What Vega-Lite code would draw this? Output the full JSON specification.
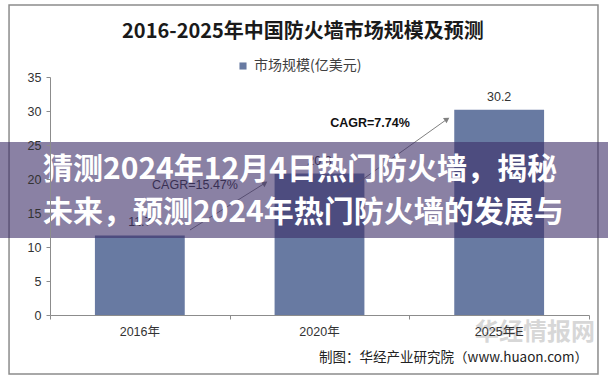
{
  "$schema": "https://vega.github.io/schema/vega-lite/v6.json",
  "width": 539,
  "height": 238,
  "autosize": {"type": "none"},
  "padding": {"left": 50, "top": 77, "right": 19, "bottom": 67},
  "background": "white",
  "config": {"view": {"stroke": null}, "font": "Liberation Sans, Noto Sans CJK SC"},
  "datasets": {
    "bars": [
      {"year": "2016年", "value": 11.7, "series": "市场规模(亿美元)"},
      {"year": "2020年", "value": 20.8, "series": "市场规模(亿美元)"},
      {"year": "2025年E", "value": 30.2, "series": "市场规模(亿美元)"}
    ],
    "frame": [{"x0": -0.228, "x1": 3.05, "y0": 45.59, "y1": -8.68}],
    "title": [{"x": 1.408, "y": 41.6, "label": "2016-2025年中国防火墙市场规模及预测"}],
    "banner": [{"x0": -0.3, "x1": 3.2, "y0": 25.44, "y1": 11.32}],
    "arrows": [
      {"xs": 0.779, "ys": 12.5, "xe": 1.197, "ye": 19.4},
      {"xs": 1.558, "ys": 16.5, "xe": 2.21, "ye": 28.8}
    ],
    "cagr": [{"x": 0.807, "y": 19.12, "label": "CAGR=15.47%"}],
    "cagr2": [{"x": 1.781, "y": 28.24, "label": "CAGR=7.74%"}],
    "source": [{"x": 2.994, "y": -6.32, "label": "制图：华经产业研究院（www.huaon.com）"}],
    "watermark": [{"x": 2.699, "y": -2.65, "label": "华经情报网"}],
    "headline": [
      {"x": -0.039, "y": 21.3, "label": "猜测2024年12月4日热门防火墙，揭秘"},
      {"x": -0.039, "y": 15.0, "label": "未来，预测2024年热门防火墙的发展与"}
    ]
  },
  "layer": [
    {
      "data": {"name": "frame"},
      "mark": {"type": "rect", "fill": "transparent", "stroke": "#8c8c8c", "strokeWidth": 1.5},
      "encoding": {
        "x": {"field": "x0", "type": "quantitative", "scale": {"domain": [0, 3], "nice": false, "zero": false},
          "axis": {"orient": "bottom", "values": [0, 1, 2, 3], "labels": false, "title": null, "grid": false, "domainColor": "#8c8c8c", "tickColor": "#8c8c8c", "tickSize": 4, "zindex": 1}},
        "x2": {"field": "x1"},
        "y": {"field": "y0", "type": "quantitative", "scale": {"domain": [0, 35], "nice": false}, "axis": null},
        "y2": {"field": "y1"}
      }
    },
    {
      "data": {"name": "title"},
      "mark": {"type": "text", "fontSize": 20, "fontWeight": "bold", "color": "#1a1a1a", "font": "Noto Sans CJK SC", "align": "center", "baseline": "middle"},
      "encoding": {
        "x": {"field": "x", "type": "quantitative", "scale": {"domain": [0, 3], "nice": false, "zero": false}, "axis": null},
        "y": {"field": "y", "type": "quantitative", "scale": {"domain": [0, 35], "nice": false}, "axis": null},
        "text": {"field": "label"}
      }
    },
    {
      "data": {"name": "bars"},
      "mark": {"type": "bar"},
      "encoding": {
        "x": {"field": "year", "type": "nominal", "sort": null,
          "scale": {"paddingInner": 0.5, "paddingOuter": 0.25},
          "axis": {"orient": "bottom", "domain": false, "ticks": false, "labelPadding": 10, "title": null, "labelAngle": 0, "labelFontSize": 12.5, "labelColor": "#333333", "labelFont": "Liberation Sans, Noto Sans CJK SC", "zindex": 1}},
        "y": {"field": "value", "type": "quantitative", "scale": {"domain": [0, 35], "nice": false},
          "axis": {"orient": "left", "values": [0, 5, 10, 15, 20, 25, 30, 35], "labelOverlap": false, "grid": false, "title": null, "domainColor": "#8c8c8c", "tickColor": "#8c8c8c", "tickSize": 4, "labelPadding": 5, "labelFontSize": 12.5, "labelColor": "#333333", "labelFont": "Liberation Sans", "zindex": 1}},
        "color": {"field": "series", "type": "nominal", "scale": {"range": ["#687aa2"]},
          "legend": {"orient": "none", "legendX": 186, "legendY": -18, "title": null, "symbolType": "square", "symbolSize": 50, "labelFontSize": 14, "labelColor": "#404040", "labelFont": "Noto Sans CJK SC"}}
      }
    },
    {
      "data": {"name": "bars"},
      "mark": {"type": "text", "baseline": "middle", "dy": -13, "fontSize": 12.5, "color": "#333333", "font": "Liberation Sans"},
      "encoding": {
        "x": {"field": "year", "type": "nominal", "sort": null, "scale": {"paddingInner": 0.5, "paddingOuter": 0.25}, "axis": null},
        "y": {"field": "value", "type": "quantitative", "scale": {"domain": [0, 35], "nice": false}, "axis": null},
        "text": {"field": "value", "type": "quantitative", "format": ".1f"}
      }
    },
    {
      "data": {"name": "arrows"},
      "mark": {"type": "rule", "color": "#808080", "strokeWidth": 1},
      "encoding": {
        "x": {"field": "xs", "type": "quantitative", "scale": {"domain": [0, 3], "nice": false, "zero": false}, "axis": null},
        "x2": {"field": "xe"},
        "y": {"field": "ys", "type": "quantitative", "scale": {"domain": [0, 35], "nice": false}, "axis": null},
        "y2": {"field": "ye"}
      }
    },
    {
      "data": {"name": "arrows"},
      "mark": {"type": "point", "shape": "triangle-up", "filled": true, "color": "#808080", "opacity": 1, "size": 40, "angle": 56},
      "encoding": {
        "x": {"field": "xe", "type": "quantitative", "scale": {"domain": [0, 3], "nice": false, "zero": false}, "axis": null},
        "y": {"field": "ye", "type": "quantitative", "scale": {"domain": [0, 35], "nice": false}, "axis": null}
      }
    },
    {
      "data": {"name": "cagr"},
      "mark": {"type": "text", "fontSize": 12.5, "color": "#333333", "font": "Liberation Sans", "align": "center", "baseline": "middle"},
      "encoding": {
        "x": {"field": "x", "type": "quantitative", "scale": {"domain": [0, 3], "nice": false, "zero": false}, "axis": null},
        "y": {"field": "y", "type": "quantitative", "scale": {"domain": [0, 35], "nice": false}, "axis": null},
        "text": {"field": "label"}
      }
    },
    {
      "data": {"name": "cagr2"},
      "mark": {"type": "text", "fontSize": 12.5, "fontWeight": "bold", "color": "#111111", "font": "Liberation Sans", "align": "center", "baseline": "middle"},
      "encoding": {
        "x": {"field": "x", "type": "quantitative", "scale": {"domain": [0, 3], "nice": false, "zero": false}, "axis": null},
        "y": {"field": "y", "type": "quantitative", "scale": {"domain": [0, 35], "nice": false}, "axis": null},
        "text": {"field": "label"}
      }
    },
    {
      "data": {"name": "watermark"},
      "mark": {"type": "text", "fontSize": 24, "fontWeight": "bold", "color": "#bdbdbd", "opacity": 0.6, "font": "Noto Sans CJK SC", "align": "center", "baseline": "middle"},
      "encoding": {
        "x": {"field": "x", "type": "quantitative", "scale": {"domain": [0, 3], "nice": false, "zero": false}, "axis": null},
        "y": {"field": "y", "type": "quantitative", "scale": {"domain": [0, 35], "nice": false}, "axis": null},
        "text": {"field": "label"}
      }
    },
    {
      "data": {"name": "source"},
      "mark": {"type": "text", "fontSize": 13.5, "color": "#222222", "font": "Noto Sans CJK SC", "align": "right", "baseline": "middle"},
      "encoding": {
        "x": {"field": "x", "type": "quantitative", "scale": {"domain": [0, 3], "nice": false, "zero": false}, "axis": null},
        "y": {"field": "y", "type": "quantitative", "scale": {"domain": [0, 35], "nice": false}, "axis": null},
        "text": {"field": "label"}
      }
    },
    {
      "data": {"name": "banner"},
      "mark": {"type": "rect", "fill": "#3c2d67", "fillOpacity": 0.6},
      "encoding": {
        "x": {"field": "x0", "type": "quantitative", "scale": {"domain": [0, 3], "nice": false, "zero": false}, "axis": null},
        "x2": {"field": "x1"},
        "y": {"field": "y0", "type": "quantitative", "scale": {"domain": [0, 35], "nice": false}, "axis": null},
        "y2": {"field": "y1"}
      }
    },
    {
      "data": {"name": "headline"},
      "mark": {"type": "text", "fontSize": 30, "fontWeight": "bold", "color": "white", "font": "Noto Sans CJK SC", "align": "left", "baseline": "middle"},
      "encoding": {
        "x": {"field": "x", "type": "quantitative", "scale": {"domain": [0, 3], "nice": false, "zero": false}, "axis": null},
        "y": {"field": "y", "type": "quantitative", "scale": {"domain": [0, 35], "nice": false}, "axis": null},
        "text": {"field": "label"}
      }
    }
  ],
  "resolve": {"scale": {"x": "independent"}, "axis": {"x": "independent", "y": "independent"}}
}
